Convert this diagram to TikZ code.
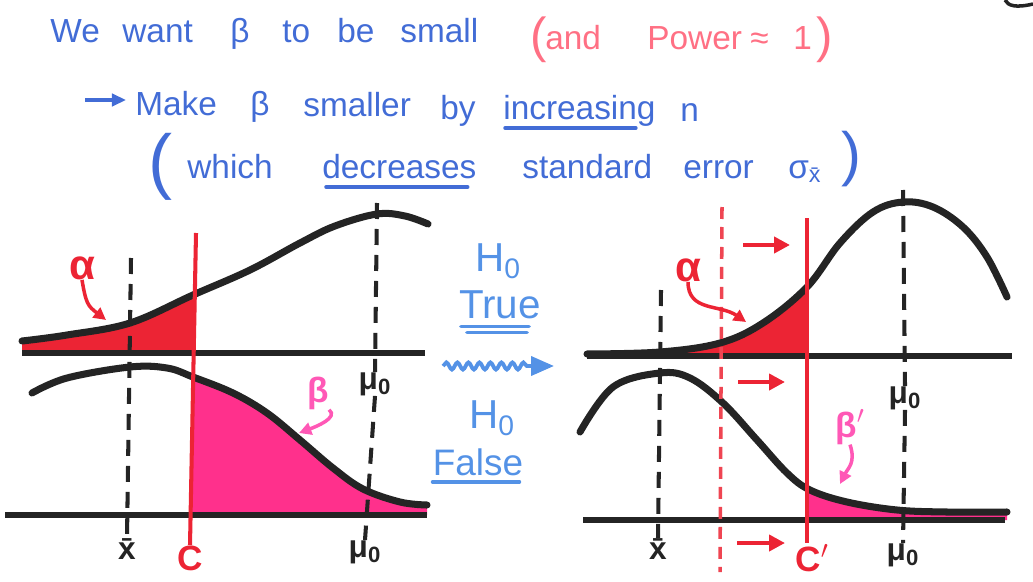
\documentclass[tikz,border=0pt]{standalone}
\usepackage{fontspec}
\setmainfont{Liberation Sans}
\usetikzlibrary{arrows.meta,positioning,calc,decorations.pathmorphing}
\definecolor{penblue}{RGB}{66,108,214}
\definecolor{skyblue}{RGB}{84,146,230}
\definecolor{salmon}{RGB}{255,112,132}
\definecolor{penred}{RGB}{236,36,52}
\definecolor{hotpink}{RGB}{255,48,140}
\definecolor{betapink}{RGB}{255,88,182}
\definecolor{ink}{RGB}{36,36,36}
% hand drawn curves, in pixel units
\newcommand{\leftNull}{plot[smooth,tension=0.6] coordinates {(22,341) (67,335) (130,323) (193,295) (250,270) (300,243) (335,226) (377,214) (405,216) (428,224)}}
\newcommand{\leftAlt}{plot[smooth,tension=0.6] coordinates {(32,393) (67,378) (130,367) (167,368) (193,377) (233,393) (267,413) (300,440) (333,468) (363,489) (400,502) (427,505)}}
\newcommand{\rightNull}{plot[smooth,tension=0.6] coordinates {(587,354) (660,352) (720,343) (763,323) (807,287) (840,243) (873,212) (903,202) (933,207) (963,227) (987,257) (1007,297)}}
\newcommand{\rightAlt}{plot[smooth,tension=0.6] coordinates {(580,432) (613,387) (660,373) (690,378) (723,403) (757,440) (787,473) (810,490) (847,502) (897,510) (947,512) (1007,512)}}

\begin{document}
\begin{tikzpicture}[
  x=0.02cm, y=-0.02cm,
  font=\fontsize{19}{22}\selectfont,
  word/.style={anchor=base west,inner sep=0pt,text=penblue},
  aside/.style={word,text=salmon},
  hyp/.style={inner sep=0pt,text=skyblue,font=\fontsize{23}{25}\selectfont},
  curve/.style={draw=ink,line width=4pt,line cap=round,line join=round},
  axisline/.style={draw=ink,line width=3pt},
  guide/.style={draw=ink,line width=2.3pt,dash pattern=on 0.32cm off 0.2cm},
  cutoff/.style={draw=penred,line width=2.3pt},
  oldcut/.style={draw=penred!85,line width=2pt,dash pattern=on 0.24cm off 0.16cm},
  push/.style={-{Triangle[length=9pt,width=9pt]},penred,line width=2.8pt},
  pointer/.style={-{Triangle[length=7pt,width=7pt]},line width=2pt},
  uline/.style={line width=2pt,line cap=round},
  ticklbl/.style={inner sep=0pt,text=ink,font=\fontsize{18}{20}\selectfont\bfseries},
  critlbl/.style={inner sep=0pt,text=penred,font=\fontsize{20}{22}\selectfont\bfseries},
  greek/.style={inner sep=0pt,font=\fontsize{24}{26}\selectfont\bfseries}
]
\useasboundingbox (0,0) rectangle (1033,581);

% heading
\node[word] (we) at (50,43) {We};
\node[word] (want) at (122,43) {want};
\node[word] (beta) at (230,43) {β};
\node[word] (to) at (282,43) {to};
\node[word] (be) at (337,43) {be};
\node[word] (small) at (400,43) {small};
\node[aside,font=\fontsize{28}{30}\selectfont] (lp) at (530,52) {(};
\node[aside] (and) at (545,50) {and};
\node[aside] (power) at (647,50) {Power};
\node[aside] (approx) at (750,50) {≈};
\node[aside] (one) at (793,50) {1};
\node[aside,font=\fontsize{28}{30}\selectfont] (rp) at (816,52) {)};
\draw[ink,line width=2pt] (1005,0) .. controls (1008,6) and (1016,8) .. (1033,4);

\coordinate (go0) at (85,100);
\coordinate (go1) at (126,100);
\draw[-{Triangle[length=8pt,width=7pt]},penblue,line width=2.2pt] (go0) -- (go1);
\node[word] (make) at (135,115) {Make};
\node[word] (beta2) at (250,115) {β};
\node[word] (smaller) at (303,116) {smaller};
\node[word] (by) at (440,119) {by};
\node[word] (incr) at (503,119) {increasing};
\node[word] (n) at (680,121) {n};
\draw[uline,penblue] ($(incr.base west)+(2,9)$) -- ($(incr.base east)+(-20,9)$);

\node[word,font=\fontsize{41}{44}\selectfont] (lp2) at (148,185) {(};
\node[word] (which) at (187,178) {which};
\node[word] (decr) at (322,178) {decreases};
\node[word] (std) at (522,178) {standard};
\node[word] (err) at (683,178) {error};
\node[word] (sig) at (788,178) {σ\textsubscript{x̄}};
\node[word,font=\fontsize{34}{36}\selectfont] (rp2) at (841,174) {)};
\draw[uline,penblue] ($(decr.base west)+(4,9)$) -- ($(decr.base east)+(-9,9)$);

% left pair of curves
\begin{scope}
  \clip (22,0) rectangle (194,353);
  \fill[penred] \leftNull -- (428,353) -- (22,353) -- cycle;
\end{scope}
\begin{scope}
  \clip (196,300) -- (189,515) -- (430,515) -- (430,300) -- cycle;
  \fill[hotpink] \leftAlt -- (427,515) -- (32,515) -- cycle;
\end{scope}
\draw[axisline] (22,353) -- (425,353);
\draw[axisline] (5,515) -- (427,515);
\draw[curve] \leftNull;
\draw[curve] \leftAlt;

\node[ticklbl] (xbarL) at (127,549) {x̄};
\node[ticklbl] (muLt) at (375,384) {μ\textsubscript{0}};
\node[ticklbl] (muLb) at (365,552) {μ\textsubscript{0}};
\node[critlbl] (cL) at (190,558) {C};
\coordinate (xbarLtop) at (131,258);
\coordinate (muLtop) at (377,203);
\draw[guide] (xbarLtop) -- (xbarL.north);
\draw[guide] (muLtop) -- (muLt.north);
\draw[guide] (muLt.south) -- (muLb.north);
\coordinate (cLtop) at (196,233);
\draw[cutoff] (cLtop) -- (cL.north);

\node[greek,text=penred] (alphaL) at (82,268) {α};
\coordinate (alphaLtip) at (106,320);
\draw[pointer,penred] (alphaL.south) .. controls +(4,24) and +(-18,-14) .. (alphaLtip);
\node[greek,text=betapink,font=\fontsize{20}{22}\selectfont\bfseries] (betaL) at (318,393) {β};
\coordinate (betaLtip) at (299,433);
\draw[pointer,betapink] (betaL.south east) .. controls +(10,8) and +(16,-6) .. (betaLtip);

% middle
\node[hyp] (h0a) at (498,261) {H\textsubscript{0}};
\node[hyp] (true) at (500,305) {True};
\draw[uline,skyblue] ($(true.south west)+(2,7)$) -- ($(true.south east)+(-12,7)$);
\draw[uline,skyblue] ($(true.south west)+(8,13)$) -- ($(true.south east)+(-14,13)$);
\coordinate (w0) at (443,366);
\coordinate (w1) at (554,366);
\draw[skyblue,line width=2.2pt,-{Triangle[length=0.46cm,width=0.38cm]},
  decorate,decoration={snake,amplitude=0.07cm,segment length=0.22cm,post length=0.46cm}] (w0) -- (w1);
\node[hyp] (h0b) at (492,418) {H\textsubscript{0}};
\node[hyp,font=\fontsize{21}{23}\selectfont] (false) at (478,462) {False};
\draw[uline,skyblue] ($(false.south west)+(0,6)$) -- ($(false.south east)+(-4,6)$);

% right pair of curves
\begin{scope}
  \clip (587,0) rectangle (807,356);
  \fill[penred] \rightNull -- (1007,356) -- (587,356) -- cycle;
\end{scope}
\begin{scope}
  \clip (807,0) rectangle (1007,520);
  \fill[hotpink] \rightAlt -- (1007,520) -- (580,520) -- cycle;
\end{scope}
\draw[axisline] (587,356) -- (1012,356);
\draw[axisline] (583,520) -- (1005,520);
\draw[curve] \rightNull;
\draw[curve] \rightAlt;

\node[ticklbl] (xbarR) at (658,549) {x̄};
\node[ticklbl] (muRt) at (905,398) {μ\textsubscript{0}};
\node[ticklbl] (muRb) at (903,555) {μ\textsubscript{0}};
\node[critlbl] (cR) at (812,558) {C$'$};
\coordinate (xbarRtop) at (661,290);
\coordinate (muRtop) at (903,190);
\coordinate (oldTop) at (722,207);
\coordinate (oldBot) at (720,572);
\coordinate (cRtop) at (807,218);
\coordinate (cRbot) at (807,543);
\draw[guide] (xbarRtop) -- (xbarR.north);
\draw[guide] (muRtop) -- (muRt.north);
\draw[guide] (muRt.south) -- (muRb.north);
\draw[oldcut] (oldTop) -- (oldBot);
\draw[cutoff] (cRtop) -- (cRbot);

\coordinate (s1a) at (743,245); \coordinate (s1b) at (790,245);
\coordinate (s2a) at (738,382); \coordinate (s2b) at (785,382);
\coordinate (s3a) at (737,543); \coordinate (s3b) at (785,543);
\draw[push] (s1a) -- (s1b);
\draw[push] (s2a) -- (s2b);
\draw[push] (s3a) -- (s3b);

\node[greek,text=penred] (alphaR) at (688,270) {α};
\coordinate (alphaRtip) at (746,322);
\draw[pointer,penred] (alphaR.south) .. controls +(0,30) and +(-26,-18) .. (alphaRtip);
\node[greek,text=betapink,font=\fontsize{20}{22}\selectfont\bfseries] (betaR) at (850,427) {β$'$};
\coordinate (betaRtip) at (840,484);
\draw[pointer,betapink] (betaR.south) .. controls +(6,18) and +(8,-16) .. (betaRtip);
\end{tikzpicture}
\end{document}
